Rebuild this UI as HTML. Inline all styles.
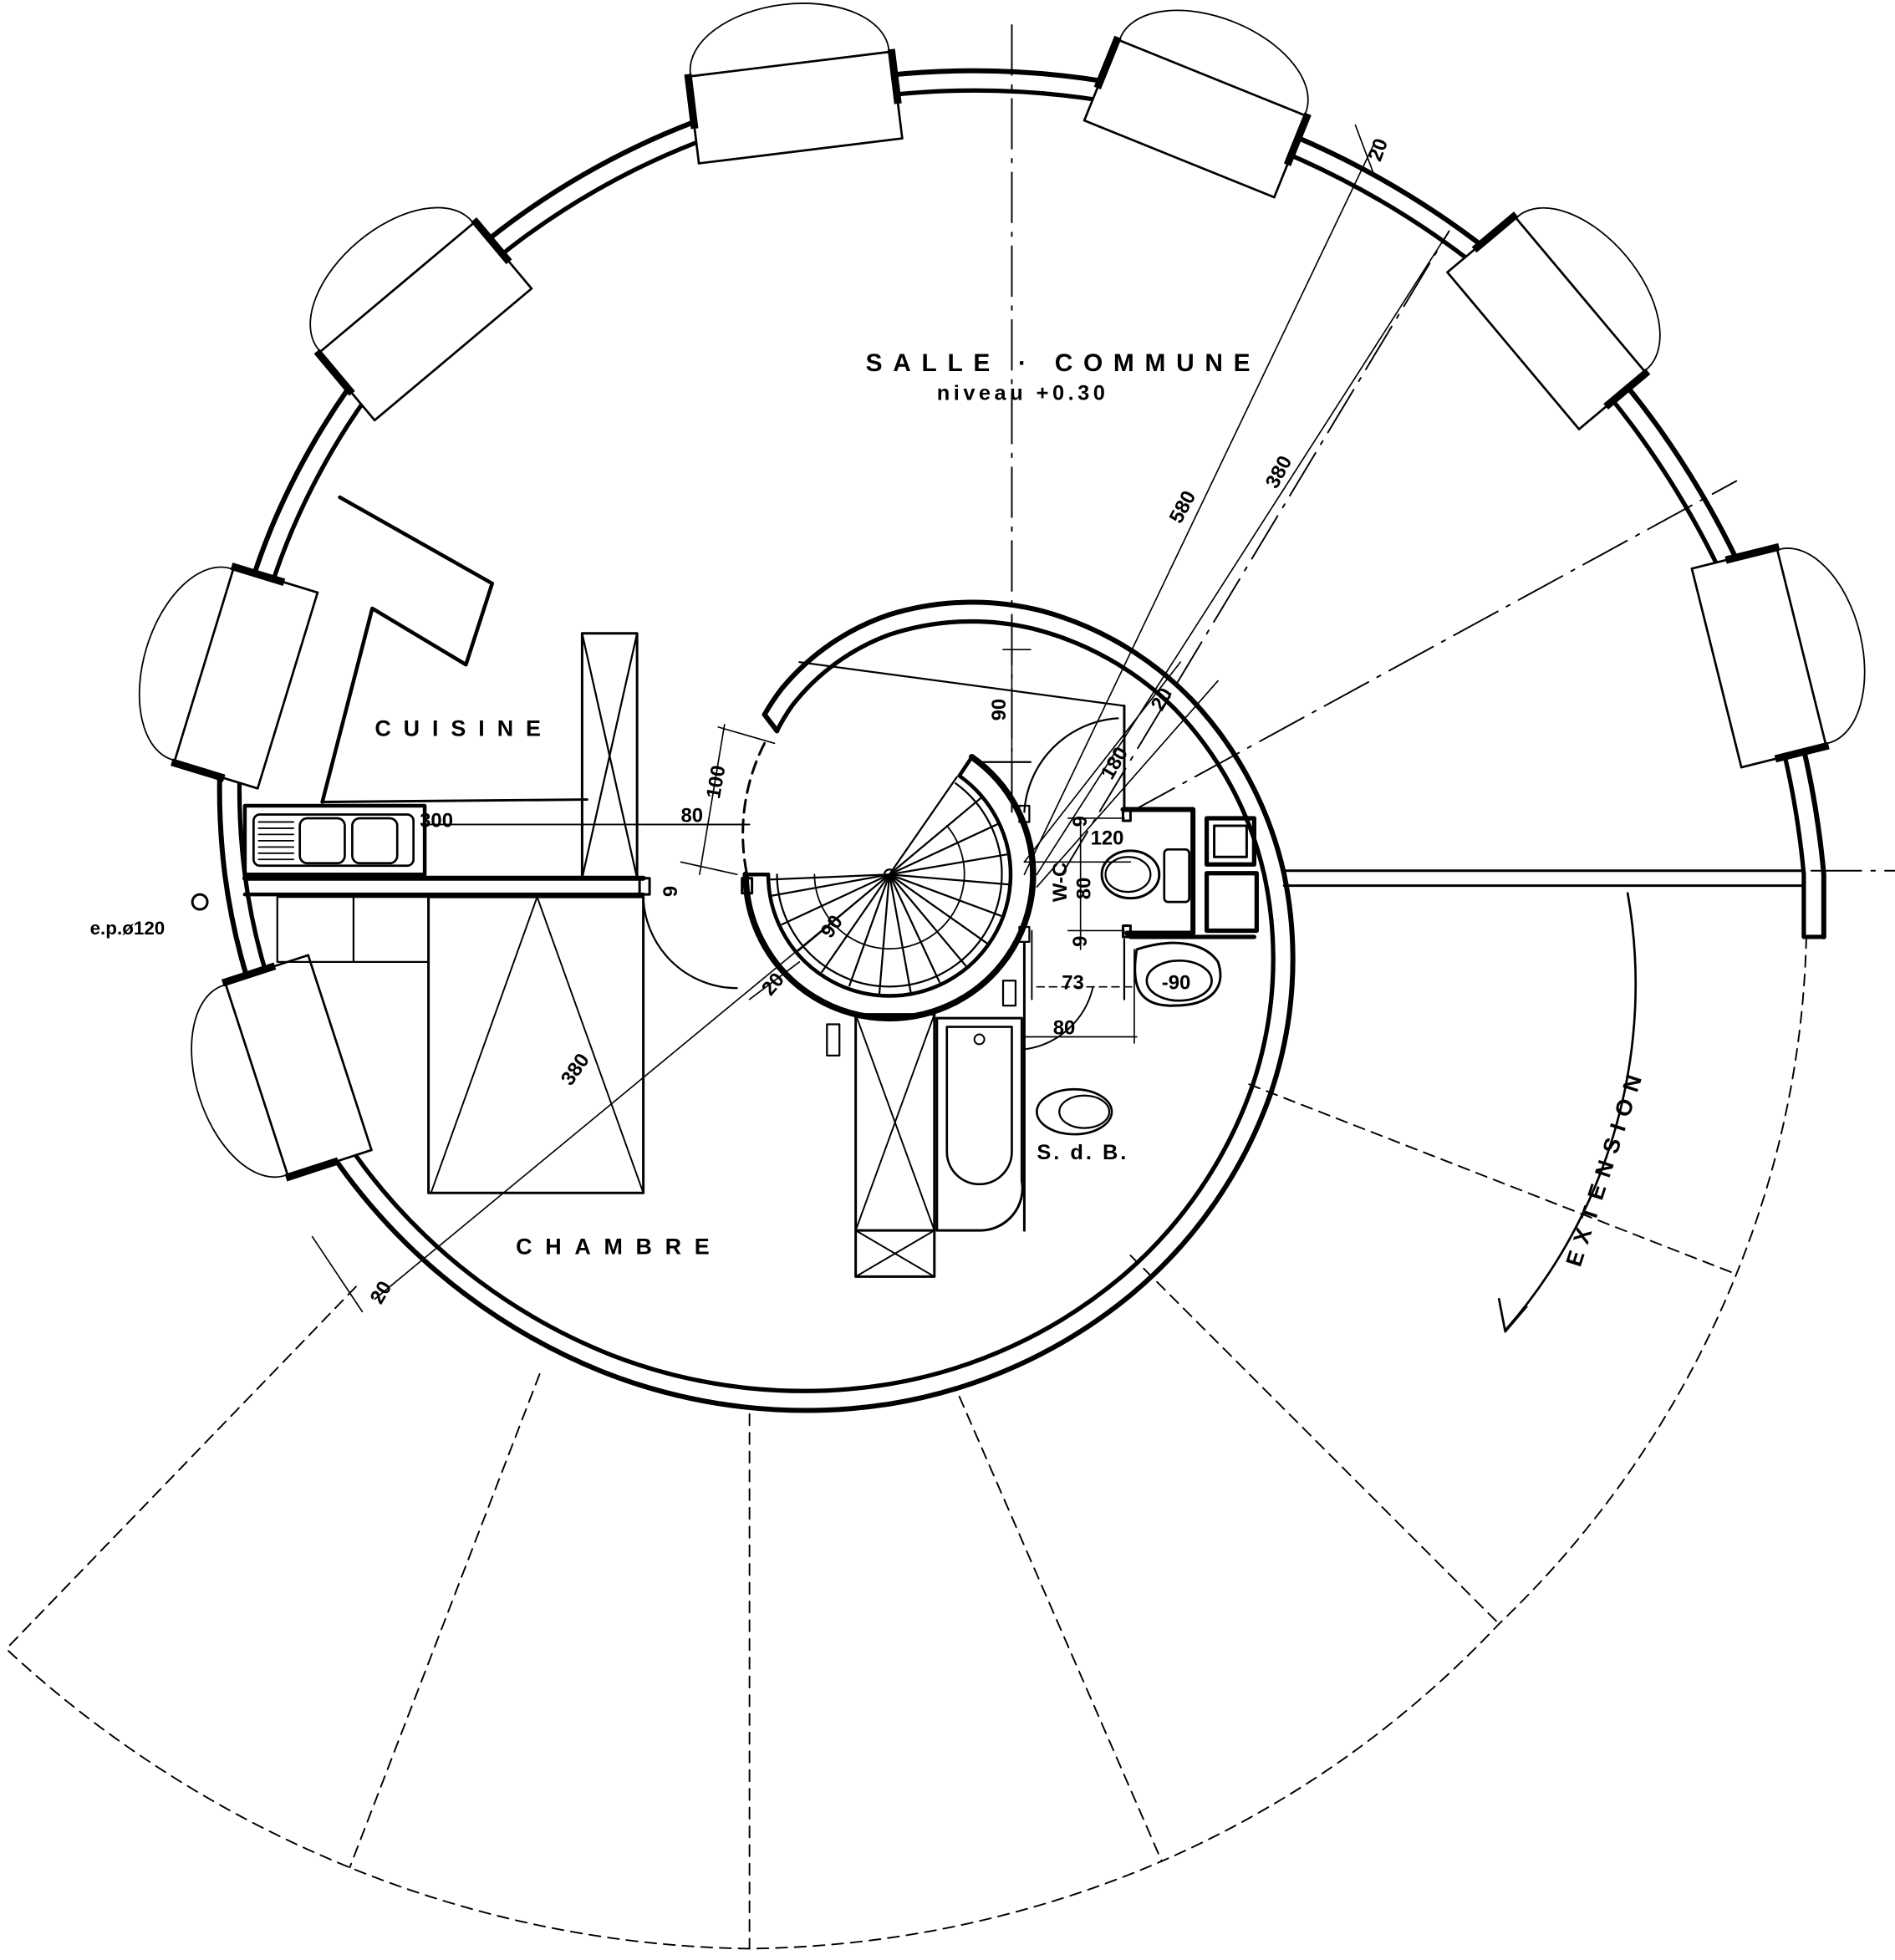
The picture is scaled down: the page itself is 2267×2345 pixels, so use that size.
<!DOCTYPE html>
<html><head><meta charset="utf-8"><style>
html,body{margin:0;padding:0;background:#fff;}
svg{display:block;}
text{font-family:"Liberation Sans",sans-serif;font-weight:bold;fill:#000;}
</style></head><body>
<svg width="2267" height="2345" viewBox="0 0 1517 1569" xmlns="http://www.w3.org/2000/svg">
<rect width="1517" height="1569" fill="#fff"/>
<g fill="none" stroke="#000" stroke-linecap="round" stroke-linejoin="round">

<!-- dashed extension -->
<g stroke-width="1.3" stroke-dasharray="9 6">
<path d="M1446 750 A 760 760 0 0 1 1390 1020 A 800 800 0 0 1 1200 1300 A 820 820 0 0 1 930 1490 A 860 860 0 0 1 600 1560 A 880 880 0 0 1 280 1495 A 900 900 0 0 1 5 1320"/>
<line x1="1000" y1="868" x2="1390" y2="1020"/>
<line x1="905" y1="1005" x2="1200" y2="1300"/>
<line x1="768" y1="1118" x2="930" y2="1490"/>
<line x1="600" y1="1132" x2="600" y2="1560"/>
<line x1="432" y1="1100" x2="280" y2="1495"/>
<line x1="285" y1="1030" x2="5" y2="1320"/>
</g>

<!-- dash-dot center lines -->
<g stroke-width="1.3" stroke-dasharray="40 8 3 8">
<line x1="810" y1="20" x2="810" y2="650"/>
<line x1="905" y1="650" x2="1390" y2="385"/>
<line x1="850" y1="700" x2="1160" y2="185"/>
<line x1="1450" y1="697" x2="1517" y2="697"/>
</g>

<!-- spiral wall: outer line -->
<path stroke-width="4" d="M612 572 A 175 175 0 0 1 626 551 A 190 190 0 0 1 712 492 A 226 226 0 0 1 834 489 A 262 262 0 0 1 954 560 A 298 298 0 0 1 1028 700 A 334 334 0 0 1 1017 876 A 370 370 0 0 1 906 1036 A 406 406 0 0 1 712 1124 A 442 442 0 0 1 482 1098 A 478 478 0 0 1 283 948 A 514 514 0 0 1 180 700 A 550 550 0 0 1 220 416 A 586 586 0 0 1 410 177 A 622 622 0 0 1 712 60 A 658 658 0 0 1 1050 115 A 694 694 0 0 1 1329 344 A 730 730 0 0 1 1460 700 L1460 750"/>
<!-- inner line -->
<path stroke-width="3.5" d="M622 585 A 160 160 0 0 1 634 565 A 175 175 0 0 1 712 508 A 210 210 0 0 1 826 503 A 246 246 0 0 1 941 568 A 282 282 0 0 1 1012 700 A 318 318 0 0 1 1003 868 A 354 354 0 0 1 898 1022 A 390 390 0 0 1 712 1108 A 426 426 0 0 1 490 1085 A 462 462 0 0 1 296 940 A 498 498 0 0 1 196 700 A 534 534 0 0 1 234 424 A 570 570 0 0 1 418 191 A 606 606 0 0 1 712 76 A 642 642 0 0 1 1042 128 A 678 678 0 0 1 1315 352 A 714 714 0 0 1 1444 700 L1444 750 L1460 750"/>
<line x1="612" y1="572" x2="622" y2="585" stroke-width="4"/>
<!-- horizontal partition to right -->
<line x1="1028" y1="697" x2="1444" y2="697" stroke-width="2"/>
<line x1="1028" y1="709" x2="1444" y2="709" stroke-width="2"/>
<!-- dashed continuation near stair -->
<path d="M612 595 A 160 160 0 0 0 598 700" stroke-width="2" stroke-dasharray="10 6"/>

<!-- bays -->
<defs>
<g id="bay">
<rect x="-82" y="-30" width="164" height="70" fill="#fff" stroke="none"/>
<line x1="-82" y1="40" x2="82" y2="40" stroke-width="1.8"/>
<line x1="-82" y1="-30" x2="82" y2="-30" stroke-width="1.8"/>
<line x1="-82" y1="12" x2="-82" y2="-32" stroke-width="6" stroke-linecap="butt"/>
<line x1="82" y1="12" x2="82" y2="-32" stroke-width="6" stroke-linecap="butt"/>
<line x1="-82" y1="12" x2="-82" y2="40" stroke-width="1.8"/>
<line x1="82" y1="12" x2="82" y2="40" stroke-width="1.8"/>
<path d="M-80 -32 A 80 46 0 0 1 80 -32" stroke-width="1.2"/>
</g>
</defs>
<use href="#bay" transform="translate(234 855) rotate(252)"/>
<use href="#bay" transform="translate(192 541) rotate(287)"/>
<use href="#bay" transform="translate(337 253) rotate(320)"/>
<use href="#bay" transform="translate(636 81) rotate(353)"/>
<use href="#bay" transform="translate(959 90) rotate(22)"/>
<use href="#bay" transform="translate(1242 255) rotate(50)"/>
<use href="#bay" transform="translate(1413 525) rotate(76)"/>

<!-- kitchen -->
<path d="M258 642 L298 487 L373 532 L394 467 L272 398" stroke-width="3"/>
<line x1="258" y1="642" x2="470" y2="640" stroke-width="2"/>
<rect x="196" y="645" width="144" height="55" stroke-width="3"/>
<rect x="203" y="652" width="128" height="41" rx="5" stroke-width="1.8"/>
<rect x="240" y="655" width="36" height="36" rx="6" stroke-width="1.8"/>
<rect x="282" y="655" width="36" height="36" rx="6" stroke-width="1.8"/>
<g stroke-width="1.2"><line x1="207" y1="658" x2="235" y2="658"/><line x1="207" y1="663" x2="235" y2="663"/><line x1="207" y1="668" x2="235" y2="668"/><line x1="207" y1="673" x2="235" y2="673"/><line x1="207" y1="678" x2="235" y2="678"/><line x1="207" y1="683" x2="235" y2="683"/><line x1="207" y1="688" x2="235" y2="688"/></g>
<line x1="340" y1="660" x2="470" y2="660" stroke-width="1.2"/>
<line x1="470" y1="660" x2="600" y2="660" stroke-width="1.2"/>
<rect x="466" y="507" width="44" height="196" stroke-width="2"/>
<line x1="466" y1="507" x2="510" y2="703" stroke-width="1.5"/>
<line x1="510" y1="507" x2="466" y2="703" stroke-width="1.5"/>
<!-- partition cuisine/chambre -->
<line x1="196" y1="703" x2="515" y2="703" stroke-width="4"/>
<line x1="196" y1="716" x2="515" y2="716" stroke-width="3"/>
<rect x="512" y="703" width="8" height="13" stroke-width="2"/>
<rect x="594" y="703" width="8" height="12" stroke-width="2"/>
<!-- door swing chambre -->
<path d="M515 716 A 75 75 0 0 0 590 791" stroke-width="1.5"/>
<!-- chambre furniture -->
<rect x="222" y="718" width="121" height="52" stroke-width="1.5"/>
<line x1="283" y1="718" x2="283" y2="770" stroke-width="1.5"/>
<rect x="343" y="718" width="172" height="237" stroke-width="2"/>
<line x1="430" y1="718" x2="345" y2="955" stroke-width="1.3"/>
<line x1="430" y1="718" x2="515" y2="955" stroke-width="1.3"/>
<!-- wardrobe under stair -->
<rect x="685" y="812" width="63" height="210" stroke-width="2"/>
<line x1="685" y1="985" x2="748" y2="985" stroke-width="2"/>
<line x1="685" y1="812" x2="748" y2="985" stroke-width="1.3"/>
<line x1="748" y1="812" x2="685" y2="985" stroke-width="1.3"/>
<line x1="685" y1="985" x2="748" y2="1022" stroke-width="1.3"/>
<line x1="748" y1="985" x2="685" y2="1022" stroke-width="1.3"/>
<rect x="662" y="820" width="10" height="25" stroke-width="1.5"/>
<!-- bath -->
<path d="M750 815 L818 815 L818 945 A 34 34 0 0 1 784 985 L750 985 Z" stroke-width="2"/>
<path d="M758 822 L810 822 L810 922 A 26 26 0 0 1 758 922 Z" stroke-width="1.8"/>
<circle cx="784" cy="832" r="4" stroke-width="1.3"/>
<line x1="820" y1="755" x2="820" y2="985" stroke-width="2"/>
<line x1="826" y1="745" x2="826" y2="800" stroke-width="1.3"/>
<rect x="803" y="785" width="10" height="20" stroke-width="1.5"/>
<!-- bidet -->
<ellipse cx="860" cy="890" rx="30" ry="18" stroke-width="1.8"/>
<ellipse cx="868" cy="890" rx="20" ry="13" stroke-width="1.5"/>

<!-- stair -->
<path d="M778 606 A 115 115 0 1 1 597 700" stroke-width="5"/>
<path d="M768 621 A 97 97 0 1 1 615 700" stroke-width="3"/>
<path d="M765 627 A 90 90 0 1 1 622 700" stroke-width="1.5"/>
<line x1="778" y1="606" x2="768" y2="621" stroke-width="3"/>
<line x1="597" y1="700" x2="615" y2="700" stroke-width="3"/>
<g stroke-width="1.5">
<line x1="712" y1="700" x2="766" y2="622"/><line x1="712" y1="700" x2="785" y2="639"/><line x1="712" y1="700" x2="798" y2="660"/><line x1="712" y1="700" x2="806" y2="684"/><line x1="712" y1="700" x2="807" y2="708"/><line x1="712" y1="700" x2="801" y2="733"/><line x1="712" y1="700" x2="790" y2="755"/><line x1="712" y1="700" x2="773" y2="773"/><line x1="712" y1="700" x2="752" y2="786"/><line x1="712" y1="700" x2="729" y2="794"/><line x1="712" y1="700" x2="704" y2="795"/><line x1="712" y1="700" x2="680" y2="789"/><line x1="712" y1="700" x2="658" y2="778"/><line x1="712" y1="700" x2="639" y2="761"/><line x1="712" y1="700" x2="626" y2="740"/><line x1="712" y1="700" x2="618" y2="717"/><line x1="712" y1="700" x2="617" y2="704"/>
</g>
<path d="M758 661 A 60 60 0 1 1 652 700" stroke-width="1.2"/>
<circle cx="712" cy="700" r="4" stroke-width="1.5"/>
<!-- upper landing lines -->
<line x1="640" y1="530" x2="900" y2="565" stroke-width="1.5"/>
<line x1="900" y1="565" x2="900" y2="648" stroke-width="2"/>
<line x1="785" y1="610" x2="825" y2="610" stroke-width="1.5"/>
<rect x="816" y="645" width="8" height="13" stroke-width="1.5"/>
<rect x="816" y="742" width="8" height="12" stroke-width="1.5"/>
<path d="M895 575 A 80 80 0 0 0 820 650" stroke-width="1.5"/>
<path d="M875 790 A 65 65 0 0 1 820 840" stroke-width="1.3"/>

<!-- WC block -->
<path d="M899 648 L955 648 L955 747 L902 747" stroke-width="4"/>
<rect x="899" y="648" width="6" height="9" stroke-width="2"/>
<rect x="899" y="741" width="6" height="9" stroke-width="2"/>
<rect x="966" y="655" width="38" height="37" stroke-width="3.5"/>
<rect x="972" y="661" width="26" height="25" stroke-width="2"/>
<rect x="966" y="699" width="40" height="46" stroke-width="3.5"/>
<line x1="905" y1="750" x2="1004" y2="750" stroke-width="3.5"/>
<line x1="900" y1="752" x2="900" y2="800" stroke-width="1.5"/>
<ellipse cx="905" cy="700" rx="23" ry="19" stroke-width="2"/>
<ellipse cx="903" cy="700" rx="18" ry="14" stroke-width="1.5"/>
<rect x="932" y="680" width="20" height="42" rx="3" stroke-width="1.8"/>
<path d="M910 760 C940 750 965 755 975 770 C982 790 970 805 940 805 C912 806 905 790 910 760 Z" stroke-width="2"/>
<ellipse cx="944" cy="785" rx="26" ry="16" stroke-width="1.8"/>

<!-- dimension lines -->
<g stroke-width="1.1">
<line x1="810" y1="520" x2="810" y2="640"/><line x1="803" y1="520" x2="825" y2="520"/>
<line x1="820" y1="690" x2="905" y2="690"/>
<line x1="865" y1="655" x2="865" y2="760"/>
<line x1="855" y1="655" x2="900" y2="655"/><line x1="855" y1="745" x2="900" y2="745"/>
<line x1="830" y1="790" x2="910" y2="790" stroke-dasharray="6 4"/>
<line x1="820" y1="830" x2="910" y2="830"/>
<line x1="908" y1="760" x2="908" y2="835"/>
<line x1="515" y1="660" x2="600" y2="660"/>
<line x1="580" y1="580" x2="560" y2="700"/>
<line x1="575" y1="582" x2="620" y2="595"/>
<line x1="545" y1="690" x2="590" y2="700"/>
<line x1="300" y1="1040" x2="712" y2="700"/>
<line x1="250" y1="990" x2="290" y2="1050"/>
<line x1="600" y1="800" x2="640" y2="770"/>
<line x1="820" y1="700" x2="1100" y2="115"/>
<line x1="830" y1="700" x2="1160" y2="185"/>
<line x1="820" y1="690" x2="945" y2="530"/>
<line x1="830" y1="710" x2="975" y2="545"/>
<line x1="1085" y1="100" x2="1100" y2="140"/>
</g>
<!-- EXTENSION arrow -->
<path d="M1303 715 A 420 420 0 0 1 1205 1065" stroke-width="1.8"/>
<path d="M1200 1040 L1205 1066 L1222 1046" stroke-width="1.8"/>
<circle cx="160" cy="722" r="6" stroke-width="2"/>
</g>

<!-- text -->
<text x="693" y="297" font-size="20" letter-spacing="8.5">SALLE · COMMUNE</text>
<text x="750" y="320" font-size="17" font-weight="normal" letter-spacing="3">niveau +0.30</text>
<text x="300" y="589" font-size="18" letter-spacing="10">CUISINE</text>
<text x="413" y="1004" font-size="18" letter-spacing="10.5">CHAMBRE</text>
<text x="830" y="928" font-size="17" letter-spacing="2">S. d.  B.</text>
<text x="72" y="748" font-size="15">e.p.ø120</text>
<text x="336" y="662" font-size="16">300</text>
<text x="545" y="658" font-size="16">80</text>
<text x="873" y="676" font-size="16">120</text>
<text x="850" y="792" font-size="16">73</text>
<text x="843" y="828" font-size="16">80</text>
<text x="930" y="792" font-size="16">-90</text>
<g font-size="16">
<text transform="translate(576 640) rotate(-80)">100</text>
<text transform="translate(805 577) rotate(-90)">90</text>
<text transform="translate(854 722) rotate(-90)">W-C</text>
<text transform="translate(873 720) rotate(-90)">80</text>
<text transform="translate(870 662) rotate(-90)">9</text>
<text transform="translate(870 758) rotate(-90)">9</text>
<text transform="translate(542 718) rotate(-90)">9</text>
<text transform="translate(930 570) rotate(-60)">20</text>
<text transform="translate(890 625) rotate(-60)">180</text>
<text transform="translate(945 420) rotate(-62)">580</text>
<text transform="translate(1022 392) rotate(-62)">380</text>
<text transform="translate(1105 130) rotate(-70)">20</text>
<text transform="translate(665 752) rotate(-55)">90</text>
<text transform="translate(617 798) rotate(-50)">20</text>
<text transform="translate(457 870) rotate(-55)">380</text>
<text transform="translate(305 1045) rotate(-60)">20</text>
</g>
<text transform="translate(1265 1015) rotate(-72)" font-size="18" letter-spacing="7">EXTENSION</text>
</svg>
</body></html>
